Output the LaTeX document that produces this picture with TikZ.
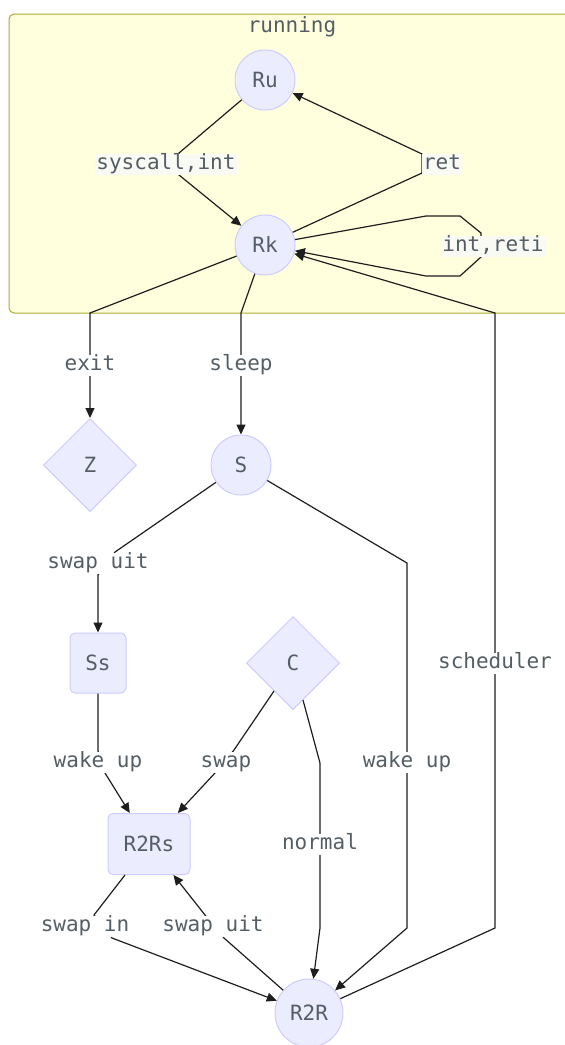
\documentclass[tikz,border=0pt]{standalone}
\usepackage{fontspec}
\setmonofont{DejaVu Sans Mono}
\usetikzlibrary{shapes.geometric,arrows.meta}

\definecolor{nodefill}{RGB}{236,236,255}
\definecolor{nodeline}{RGB}{204,204,255}
\definecolor{clusterfill}{RGB}{255,255,222}
\definecolor{clusterline}{RGB}{170,170,51}
\definecolor{txt}{RGB}{84,94,100}
\definecolor{edgecol}{RGB}{30,30,30}
\definecolor{labbgin}{RGB}{250,250,244}

\tikzset{
  base/.style={font=\ttfamily\fontsize{21}{24}\selectfont, text=txt},
  circ/.style={base, circle, draw=nodeline, fill=nodefill, line width=1pt,
               minimum size=60pt, inner sep=0pt},
  bigcirc/.style={circ, minimum size=68pt},
  rbox/.style={base, rectangle, rounded corners=5pt, draw=nodeline, fill=nodefill,
               line width=1pt, inner sep=0pt},
  dia/.style={base, diamond, aspect=1, draw=nodeline, fill=nodefill, line width=1pt,
              minimum size=93pt, inner sep=0pt},
  edge/.style={draw=edgecol, line width=1.2pt, -{Triangle[length=10pt,width=9pt]}},
  elab/.style={base, fill=white, inner sep=1pt, text height=15pt, text depth=4pt},
  elabin/.style={elab, fill=labbgin},
}

\begin{document}
\begin{tikzpicture}[x=1pt,y=-1pt]
\useasboundingbox (0,0) rectangle (565,1045);
\clip (0,0) rectangle (565,1045);

% subgraph "running"
\draw[fill=clusterfill, draw=clusterline, line width=1pt, rounded corners=5pt]
  (9,14) rectangle (600,313);
\node[base] (runtitle) at (292,27) {running};

% states
\node[circ] (Ru) at (265,80) {Ru};
\node[circ] (Rk) at (265,245) {Rk};
\node[dia] (Z) at (90,465) {Z};
\node[circ] (S) at (241,465) {S};
\node[rbox, minimum width=56pt, minimum height=60pt] (Ss) at (98,663) {Ss};
\node[dia] (C) at (293,663) {C};
\node[rbox, minimum width=82pt, minimum height=61pt] (R2Rs) at (149,844) {R2Rs};
\node[bigcirc] (R2R) at (309,1013) {R2R};

% transitions
\draw[edge] (Ru) -- (179,153) -- (179,175) -- (Rk);
\draw[edge] (Rk) -- (422,173) -- (422,154) -- (Ru);
\draw[edge] (Rk) -- (426,216) -- (460,216) -- (481,233) -- (481,257)
  -- (460,276) -- (426,276) -- (Rk);
\draw[edge] (Rk) -- (90,313) -- (Z);
\draw[edge] (Rk) -- (241,313) -- (S);
\draw[edge] (S) -- (115,552) -- (98,575) -- (Ss);
\draw[edge] (S) -- (407,563) -- (407,928) -- (R2R);
\draw[edge] (Ss) -- (98,751) -- (105,773) -- (R2Rs);
\draw[edge] (C) -- (234,750) -- (215,773) -- (R2Rs);
\draw[edge] (C) -- (320,763) -- (320,928) -- (R2R);
\draw[edge] (R2Rs) -- (94,915) -- (112,938) -- (R2R);
\draw[edge] (R2R) -- (224,938) -- (205,915) -- (R2Rs);
\draw[edge] (R2R) -- (495,928) -- (495,313) -- (Rk);

% transition labels
\node[elabin] (l1) at (166,164) {syscall,int};
\node[elabin] (l2) at (442,164) {ret};
\node[elabin] (l3) at (493,246) {int,reti};
\node[elab] (l4) at (90,365) {exit};
\node[elab] (l5) at (241,365) {sleep};
\node[elab] (l6) at (98,563) {swap uit};
\node[elab] (l7) at (407,762) {wake up};
\node[elab] (l8) at (495,663) {scheduler};
\node[elab] (l9) at (98,762) {wake up};
\node[elab] (l10) at (226,762) {swap};
\node[elab] (l11) at (320,844) {normal};
\node[elab] (l12) at (85,926) {swap in};
\node[elab] (l13) at (213,926) {swap uit};
\end{tikzpicture}
\end{document}
